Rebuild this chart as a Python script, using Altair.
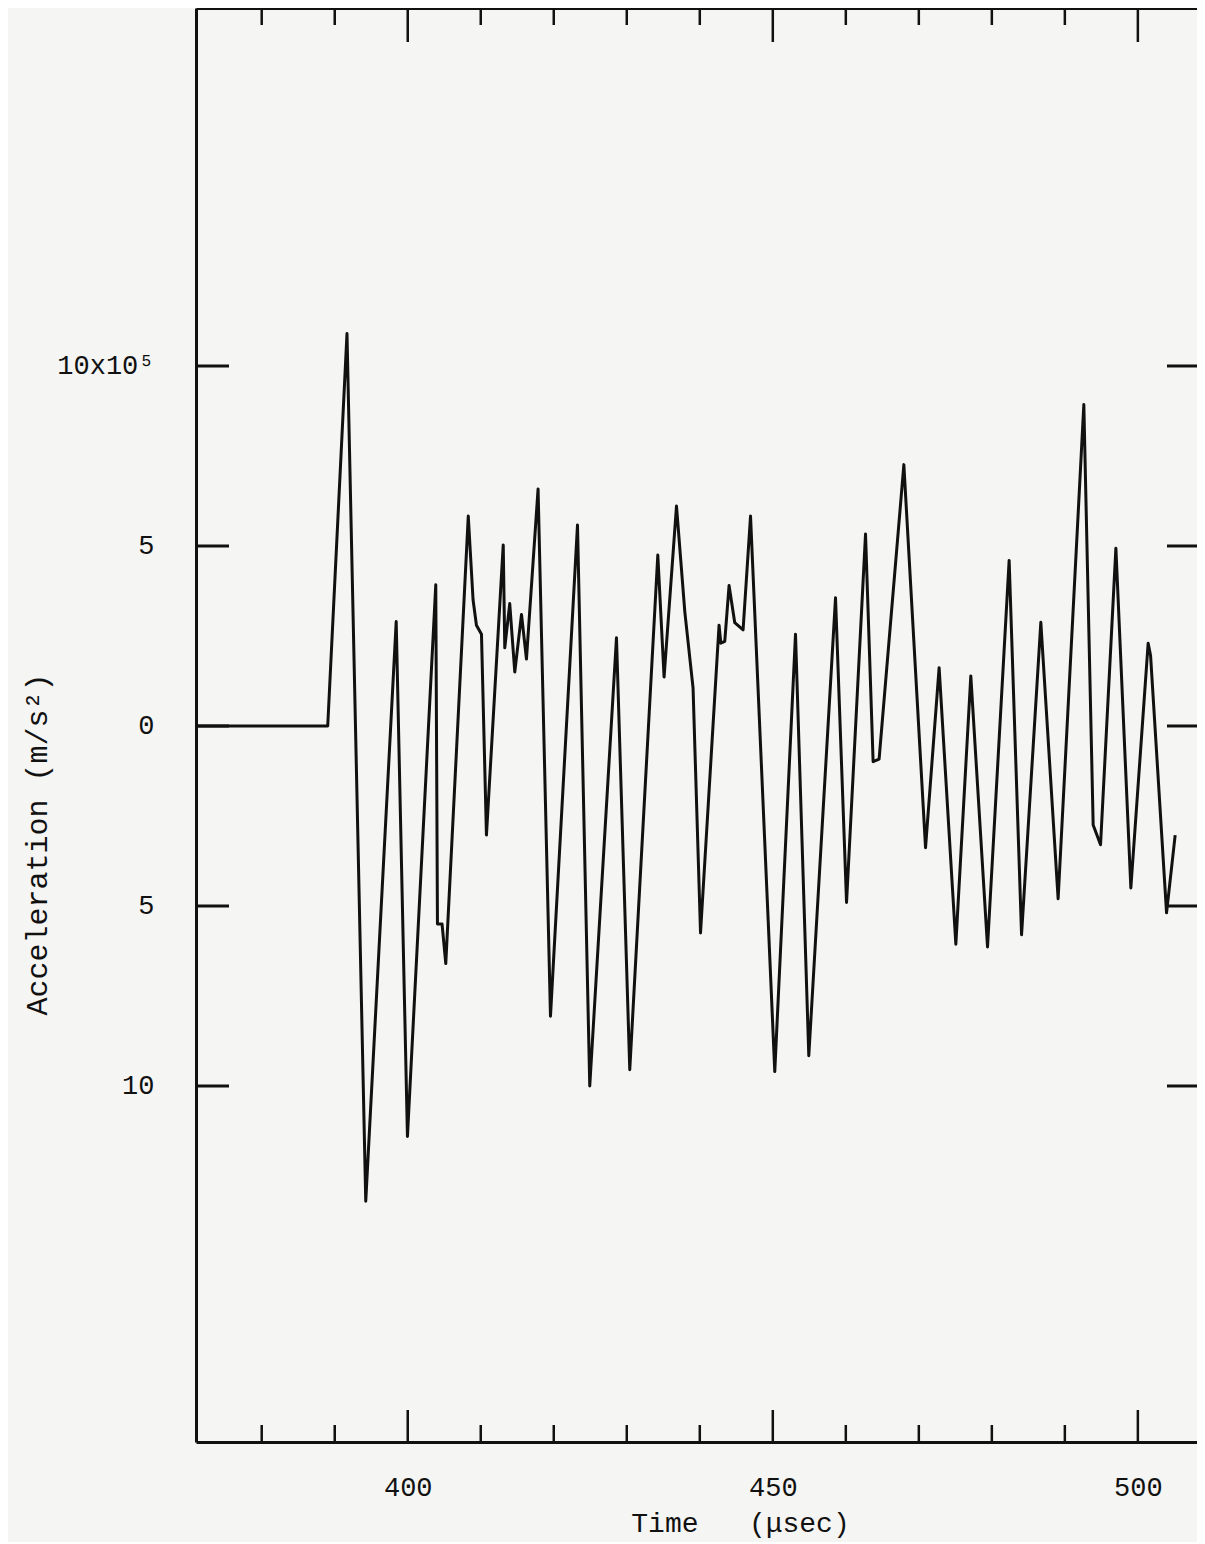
import altair as alt
import pandas as pd

# ---- data (time in microseconds, acceleration in 10^5 m/s^2)
time_us = [371.0, 389.04, 391.68, 394.25, 398.42, 399.96, 403.84, 404.07, 404.70, 405.21,
           408.29, 408.95, 409.41, 410.10, 410.78, 413.08, 413.29, 413.97, 414.66, 415.58,
           416.26, 417.85, 419.55, 423.25, 424.93, 428.59, 430.41, 434.25, 435.11, 436.81,
           437.95, 439.08, 440.10, 442.64, 442.88, 443.42, 444.01, 444.79, 445.93, 446.95,
           450.27, 453.11, 454.93, 458.59, 460.10, 462.70, 463.74, 464.56, 467.95, 470.92,
           472.78, 475.07, 477.12, 479.41, 482.37, 484.07, 486.71, 489.08, 492.60, 493.88,
           494.89, 496.99, 499.04, 501.41, 501.74, 503.93, 505.11]
accel = [0, 0, 10.9, -13.2, 2.9, -11.4, 3.92, -5.5, -5.5, -6.6,
         5.83, 3.5, 2.8, 2.55, -3.03, 5.03, 2.17, 3.4, 1.5, 3.1,
         1.86, 6.58, -8.06, 5.58, -10.0, 2.45, -9.55, 4.75, 1.36, 6.11,
         3.17, 1.05, -5.75, 2.8, 2.3, 2.35, 3.9, 2.87, 2.67, 5.83,
         -9.6, 2.55, -9.16, 3.56, -4.9, 5.33, -0.99, -0.92, 7.26, -3.38,
         1.62, -6.06, 1.39, -6.14, 4.6, -5.8, 2.88, -4.8, 8.93, -2.75,
         -3.3, 4.94, -4.5, 2.3, 1.96, -5.19, -3.03]

x_major = [400, 450, 500]
x_minor = [380, 390, 410, 420, 430, 440, 460, 470, 480, 490]
y_ticks = [-10, -5, 0, 5, 10]

# ---- layout
W, H = 1001, 1434
FONT = "Liberation Mono"
INK = "#111111"

df = pd.DataFrame({"t": time_us, "a": accel})
xscale = alt.Scale(domain=[371.0, 508.1], nice=False, zero=False)
yscale = alt.Scale(domain=[-19.889, 19.944], nice=False, zero=False)

x_axis = alt.Axis(
    orient="bottom", values=x_major, grid=False, ticks=False, domain=True,
    domainColor=INK, domainWidth=3, labelFont=FONT, labelFontSize=27,
    labelColor=INK, labelPadding=32, labelFlush=False, labelOverlap=False,
    title="Time\u00a0\u00a0\u00a0(\u03bcsec)", titleFont=FONT, titleFontSize=28,
    titleFontWeight="normal", titleColor=INK, titleX=544, titleY=89,
    titleBaseline="alphabetic",
)
y_axis = alt.Axis(
    orient="left", values=y_ticks, grid=False, ticks=False, domain=True,
    domainColor=INK, domainWidth=3, labelFont=FONT, labelFontSize=27,
    labelColor=INK, labelPadding=42, labelOverlap=False,
    labelExpr="datum.value == 10 ? '10x10\u2075' : '' + abs(datum.value)",
    title="Acceleration (m/s\u00b2)", titleFont=FONT, titleFontSize=30,
    titleFontWeight="normal", titleColor=INK, titleX=-150, titleY=836,
    titleAngle=270, titleBaseline="alphabetic",
)

line = alt.Chart(df).mark_line(color=INK, strokeWidth=3, strokeJoin="round").encode(
    x=alt.X("t:Q", scale=xscale, axis=x_axis),
    y=alt.Y("a:Q", scale=yscale, axis=y_axis),
)

top_axis = alt.Axis(orient="top", labels=False, ticks=False, grid=False, domain=True,
                    domainColor=INK, domainWidth=3, title=None)

minor_df = pd.DataFrame({"t": x_minor})
major_df = pd.DataFrame({"t": x_major})
yt_df = pd.DataFrame({"v": y_ticks})

top_minor = alt.Chart(minor_df).mark_rule(color=INK, strokeWidth=2.5).encode(
    x=alt.X("t:Q", scale=xscale, axis=top_axis), y=alt.value(0), y2=alt.value(17))
top_major = alt.Chart(major_df).mark_rule(color=INK, strokeWidth=2.5).encode(
    x=alt.X("t:Q", scale=xscale, axis=None), y=alt.value(0), y2=alt.value(34))
bot_minor = alt.Chart(minor_df).mark_rule(color=INK, strokeWidth=2.5).encode(
    x=alt.X("t:Q", scale=xscale, axis=None), y=alt.value(H), y2=alt.value(H - 17))
bot_major = alt.Chart(major_df).mark_rule(color=INK, strokeWidth=2.5).encode(
    x=alt.X("t:Q", scale=xscale, axis=None), y=alt.value(H), y2=alt.value(H - 32))
left_ticks = alt.Chart(yt_df).mark_rule(color=INK, strokeWidth=3).encode(
    y=alt.Y("v:Q", scale=yscale, axis=None), x=alt.value(0), x2=alt.value(33))
right_ticks = alt.Chart(yt_df).mark_rule(color=INK, strokeWidth=3).encode(
    y=alt.Y("v:Q", scale=yscale, axis=None), x=alt.value(W - 30), x2=alt.value(W))

chart = alt.layer(
    line, top_minor, top_major, bot_minor, bot_major, left_ticks, right_ticks
).resolve_axis(x="independent", y="independent").properties(
    width=W, height=H,
    padding={"left": 188, "top": 0, "right": 0, "bottom": 100},
    autosize=alt.AutoSizeParams(type="none"),
    background="#f5f5f3",
).configure_view(stroke="transparent")

chart.save("out.html", embed_options={"renderer": "svg", "actions": False})
